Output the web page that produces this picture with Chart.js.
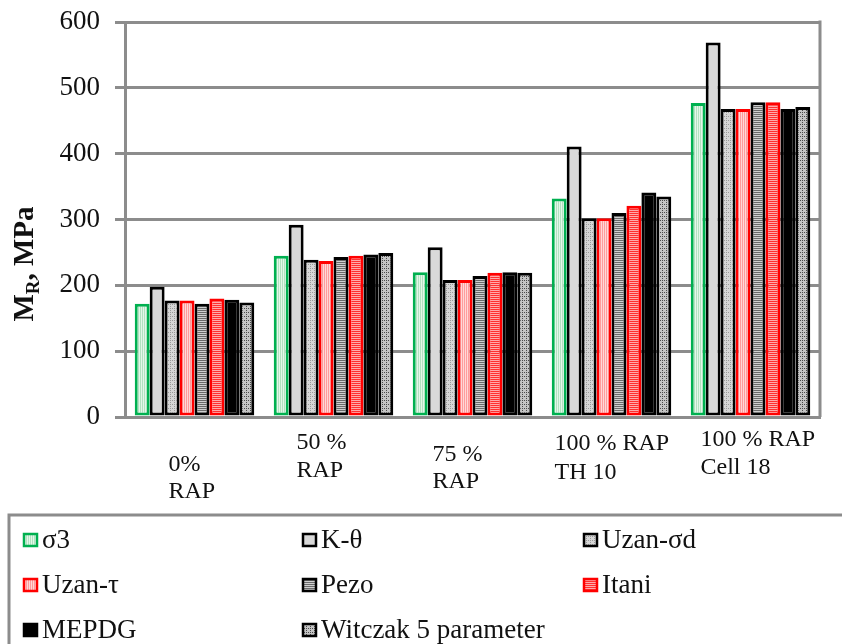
<!DOCTYPE html>
<html>
<head>
<meta charset="utf-8">
<script src="https://cdn.jsdelivr.net/npm/chart.js@4"></script>
<style>
  body { margin: 0; background: #fff; }
  canvas { display: block; }
</style>
</head>
<body>
<canvas id="mrChart" width="842" height="644"></canvas>
<script>
// data (MPa)
const categories = [['0%', 'RAP'], ['50 %', 'RAP'], ['75 %', 'RAP'], ['100 % RAP', 'TH 10'], ['100 % RAP', 'Cell 18']];
const seriesNames = ['σ3', 'K-θ', 'Uzan-σd', 'Uzan-τ', 'Pezo', 'Itani', 'MEPDG', 'Witczak 5 parameter'];
const sigma3 = [172, 245, 220, 332, 477];
const kTheta = [198, 292, 258, 411, 569];
const uzanSd = [177, 239, 208, 302, 468];
const uzanTau = [177, 237, 208, 302, 468];
const pezo = [172, 243, 214, 310, 478];
const itani = [180, 245, 219, 321, 478];
const mepdg = [178, 247, 220, 341, 468];
const witczak = [174, 249, 219, 335, 471];
const yTicks = [0, 100, 200, 300, 400, 500, 600];

const FONT = "'Liberation Serif', 'DejaVu Serif', serif";
const GRID = '#8c8c8c';

function makePattern(bg, fg, kind) {
    const c = document.createElement('canvas');
    c.width = 4; c.height = 4;
    const p = c.getContext('2d');
    p.fillStyle = bg;
    p.fillRect(0, 0, 4, 4);
    p.fillStyle = fg;
    if (kind === 'v') { p.fillRect(0, 0, 1, 4); p.fillRect(2, 0, 1, 4); }
    if (kind === 'h') { p.fillRect(0, 0, 4, 1); p.fillRect(0, 2, 4, 1); }
    if (kind === 'd') { p.fillRect(0, 0, 1, 1); p.fillRect(2, 2, 1, 1); p.fillRect(2, 0, 1, 1); }
    return p.createPattern(c, 'repeat');
}

const seriesValues = [sigma3, kTheta, uzanSd, uzanTau, pezo, itani, mepdg, witczak];
const fills = [
    makePattern('#e4f6ea', '#b2e2c0', 'v'),
    '#d9d9d9',
    makePattern('#d6d6d6', '#9a9a9a', 'd'),
    makePattern('#ffd8d8', '#ff9c9c', 'v'),
    makePattern('#cfcfcf', '#6a6a6a', 'h'),
    makePattern('#ff3030', '#ffaaaa', 'h'),
    '#000000',
    makePattern('#c4c4c4', '#4a4a4a', 'd')
];
const borders = ['#00b050', '#000', '#000', '#ff0000', '#000', '#ff0000', '#000', '#000'];

const datasets = seriesNames.map((name, i) => ({
    label: name,
    data: seriesValues[i],
    backgroundColor: fills[i],
    borderColor: borders[i],
    borderWidth: 3,
    borderSkipped: false,
    categoryPercentage: 0.86,
    barPercentage: 1.0
}));

// where each category label block sits (left shift from group centre, line centres)
const labelDx = [-26, -37, -40, -57, -50];
const labelY = [[465, 492], [443, 471], [455, 482], [444, 473], [440, 468]];

const extras = {
    id: 'extras',
    afterDraw(chart) {
        const c = chart.ctx;
        const area = chart.chartArea;
        const x = chart.scales.x;
        c.save();

        // right edge of the plot area
        c.strokeStyle = GRID;
        c.lineWidth = 3;
        c.beginPath();
        c.moveTo(area.right, area.top - 1.5);
        c.lineTo(area.right, area.bottom);
        c.stroke();

        // category labels
        c.fillStyle = '#111';
        c.font = '24px ' + FONT;
        c.textAlign = 'left';
        c.textBaseline = 'middle';
        categories.forEach((lines, i) => {
            const left = x.getPixelForValue(i) + labelDx[i];
            lines.forEach((t, j) => c.fillText(t, left, labelY[i][j]));
        });

        // y axis title M_R, MPa
        c.save();
        c.translate(33, 264);
        c.rotate(-Math.PI / 2);
        c.textBaseline = 'alphabetic';
        c.font = 'bold 29px ' + FONT;
        const wM = c.measureText('M').width;
        c.font = 'bold 19px ' + FONT;
        const wR = c.measureText('R').width;
        c.font = 'bold 29px ' + FONT;
        const wRest = c.measureText(', MPa').width;
        let sx = -(wM + wR + wRest) / 2;
        c.fillText('M', sx, 0);
        sx += wM;
        c.font = 'bold 19px ' + FONT;
        c.fillText('R', sx, 6);
        sx += wR;
        c.font = 'bold 29px ' + FONT;
        c.fillText(', MPa', sx, 0);
        c.restore();

        // legend
        c.strokeStyle = GRID;
        c.lineWidth = 3;
        c.strokeRect(9, 515, 860, 160);
        const colX = [23, 302, 583];
        const rowY = [540, 585, 630];
        c.font = '27px ' + FONT;
        c.textBaseline = 'middle';
        chart.data.datasets.forEach((ds, i) => {
            const bx = colX[i % 3];
            const by = rowY[Math.floor(i / 3)];
            c.fillStyle = ds.backgroundColor;
            c.fillRect(bx, by - 7, 15, 14);
            c.strokeStyle = ds.borderColor;
            c.lineWidth = 2.5;
            c.strokeRect(bx + 1, by - 6, 13, 12);
            c.fillStyle = '#111';
            c.fillText(ds.label, bx + 19, by + 1);
        });
        c.restore();
    }
};

new Chart(document.getElementById('mrChart').getContext('2d'), {
    type: 'bar',
    data: {
        labels: categories,
        datasets: datasets
    },
    options: {
        responsive: false,
        animation: false,
        devicePixelRatio: 1,
        layout: { padding: { top: 22, right: 22, left: 0, bottom: 0 } },
        scales: {
            x: {
                ticks: { display: false },
                grid: { display: false },
                border: { color: GRID, width: 3 },
                afterFit: s => { s.height = 227; }
            },
            y: {
                min: 0,
                max: 600,
                afterBuildTicks: s => { s.ticks = yTicks.map(v => ({ value: v })); },
                ticks: {
                    color: '#111',
                    padding: 15,
                    font: { family: FONT, size: 27 }
                },
                grid: { color: GRID, lineWidth: 3, tickLength: 10 },
                border: { color: GRID, width: 3 },
                afterFit: s => { s.width = 125; s.paddingTop = 0; s.paddingBottom = 0; }
            }
        },
        plugins: {
            legend: { display: false },
            tooltip: { enabled: false }
        }
    },
    plugins: [extras]
});
</script>
</body>
</html>
